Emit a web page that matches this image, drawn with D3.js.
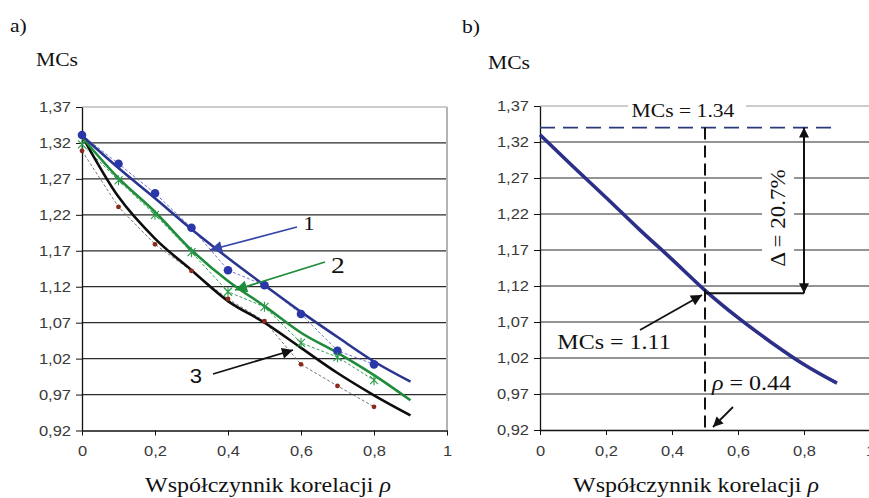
<!DOCTYPE html>
<html lang="pl">
<head>
  <meta charset="utf-8"/>
  <title>MCs – współczynnik korelacji</title>
  <script src="https://cdn.jsdelivr.net/npm/d3@7/dist/d3.min.js"></script>
  <style>
    html, body { margin:0; padding:0; background:#fff; overflow:hidden; }
    svg { display:block; }
    .tick text { font-family:"Liberation Sans", Arial, sans-serif; font-size:15px; fill:#3a3a3a; }
    .serif { font-family:"Liberation Serif", "Times New Roman", serif; fill:#111; }
  </style>
</head>
<body>
<svg width="869" height="498"></svg>
<script>
  // --- dane ---
  const rhoLine = [0, 0.1, 0.2, 0.3, 0.4, 0.5, 0.6, 0.7, 0.8, 0.9];
  const curve1  = [1.330, 1.285, 1.243, 1.200, 1.160, 1.122, 1.085, 1.050, 1.016, 0.988];
  const curve2  = [1.328, 1.271, 1.224, 1.171, 1.128, 1.093, 1.056, 1.028, 0.997, 0.962];
  const curve3  = [1.330, 1.245, 1.187, 1.143, 1.100, 1.070, 1.035, 1.000, 0.969, 0.941];

  const rhoPts  = [0, 0.1, 0.2, 0.3, 0.4, 0.5, 0.6, 0.7, 0.8];
  const pts1    = [1.331, 1.291, 1.250, 1.202, 1.143, 1.122, 1.082, 1.031, 1.012];
  const pts2    = [1.318, 1.268, 1.220, 1.168, 1.113, 1.092, 1.042, 1.022, 0.990];
  const pts3    = [1.309, 1.231, 1.179, 1.142, 1.103, 1.072, 1.012, 0.982, 0.953];

  const curveB  = [1.330, 1.286, 1.243, 1.199, 1.157, 1.114, 1.076, 1.042, 1.011, 0.985];

  const yTicks  = [0.92, 0.97, 1.02, 1.07, 1.12, 1.17, 1.22, 1.27, 1.32, 1.37];
  const yLabels = ["0,92", "0,97", "1,02", "1,07", "1,12", "1,17", "1,22", "1,27", "1,32", "1,37"];
  const xTicks  = [0, 0.2, 0.4, 0.6, 0.8, 1];
  const xLabels = ["0", "0,2", "0,4", "0,6", "0,8", "1"];

  const mcsMax = 1.34, mcsCross = 1.11, rhoCross = 0.5, rhoBracket = 0.8;

  const svg = d3.select("svg");
  const SX = 1.2; // tekst w oryginale jest rozciągnięty w poziomie

  // defs: groty strzałek
  const defs = svg.append("defs");
  function head(id, color, w, h) {
    defs.append("marker").attr("id", id)
      .attr("viewBox", "0 0 10 10").attr("refX", 10).attr("refY", 5)
      .attr("markerUnits", "userSpaceOnUse")
      .attr("markerWidth", w).attr("markerHeight", h)
      .attr("orient", "auto-start-reverse")
      .append("path").attr("d", "M0,0L10,5L0,10Z").attr("fill", color);
  }
  head("hBlue", "#3545a8", 16, 12);
  head("hGreen", "#1e8c3a", 16, 12);
  head("hBlack", "#111", 16, 11);
  head("hSmall", "#111", 13, 10);

  function label(x, y, s, size, anchor, cls, sx) {
    return svg.append("text")
      .attr("class", cls || "serif")
      .attr("transform", `translate(${x},${y}) scale(${sx || SX},1)`)
      .attr("text-anchor", anchor || "start")
      .style("font-size", size + "px")
      .text(s);
  }

  const fmt = d => yLabels[yTicks.indexOf(d)];
  const fmtX = d => xLabels[xTicks.indexOf(d)];

  function panel(x0, x1, y0, y1, grey) {
    const x = d3.scaleLinear([0, 1], [x0, x1]);
    const y = d3.scaleLinear([0.92, 1.37], [y0, y1]);
    const g = svg.append("g");
    // siatka
    g.append("g").selectAll("line").data(yTicks.slice(1)).join("line")
      .attr("x1", x0).attr("x2", Math.min(x1, 869))
      .attr("y1", d => y(d)).attr("y2", d => y(d))
      .attr("stroke", d => d === 1.37 ? "#9a9a9a" : "#2a2a2a")
      .attr("stroke-width", 1.2);
    if (grey) {
      g.append("line").attr("x1", x1).attr("x2", x1).attr("y1", y(1.37)).attr("y2", y0)
        .attr("stroke", "#b4b4b4").attr("stroke-width", 2);
    }
    const ay = g.append("g").attr("transform", `translate(${x0},0)`)
      .call(d3.axisLeft(y).tickValues(yTicks).tickFormat(fmt).tickSize(6).tickSizeOuter(0).tickPadding(4));
    const ax = g.append("g").attr("transform", `translate(0,${y0})`)
      .call(d3.axisBottom(x).tickValues(xTicks).tickFormat(fmtX).tickSize(5).tickSizeOuter(0).tickPadding(10));
    [ay, ax].forEach(a => {
      a.select(".domain").attr("stroke", "#111").attr("stroke-width", 1.3);
      a.selectAll(".tick line").attr("stroke", "#111");
      a.selectAll(".tick text").attr("transform", `scale(1.1,1)`);
    });
    return { x, y, g };
  }

  // ===== a) =====
  const A = panel(82, 447, 430.5, 107, true);
  const lineA = (vals, c) => d3.line().curve(c || d3.curveLinear)
    .x(d => A.x(d)).y((d, i) => A.y(vals[i]));

  // przerywane linie przez punkty
  [[pts1, "#6f74d0"], [pts2, "#3aa05a"], [pts3, "#777"]].forEach(([v, c]) => {
    A.g.append("path").attr("d", lineA(v)(rhoPts))
      .attr("fill", "none").attr("stroke", c).attr("stroke-width", 1).attr("stroke-dasharray", "3,2");
  });
  // ciągłe krzywe
  [[curve3, "#0d0d0d"], [curve2, "#1e8c3a"], [curve1, "#2a3590"]].forEach(([v, c]) => {
    A.g.append("path").attr("d", lineA(v, d3.curveMonotoneX)(rhoLine))
      .attr("fill", "none").attr("stroke", c).attr("stroke-width", 2.6).attr("stroke-linejoin", "round");
  });
  // znaczniki
  A.g.append("g").selectAll("circle").data(rhoPts).join("circle")
    .attr("cx", d => A.x(d)).attr("cy", (d, i) => A.y(pts1[i])).attr("r", 4.3).attr("fill", "#2b36a8");
  A.g.append("g").selectAll("path").data(rhoPts).join("path")
    .attr("transform", (d, i) => `translate(${A.x(d)},${A.y(pts2[i])})`)
    .attr("d", "M-4,-4L4,4M-4,4L4,-4M0,-5L0,5")
    .attr("stroke", "#2a9a48").attr("stroke-width", 1.1);
  A.g.append("g").selectAll("circle").data(rhoPts).join("circle")
    .attr("cx", d => A.x(d)).attr("cy", (d, i) => A.y(pts3[i])).attr("r", 2.4).attr("fill", "#8b2a1a");

  // opisy krzywych
  svg.append("line").attr("x1", 297).attr("y1", 227).attr("x2", 210).attr("y2", 250)
    .attr("stroke", "#3545a8").attr("stroke-width", 1.8).attr("marker-end", "url(#hBlue)");
  svg.append("line").attr("x1", 325).attr("y1", 262).attr("x2", 235).attr("y2", 290)
    .attr("stroke", "#1e8c3a").attr("stroke-width", 1.8).attr("marker-end", "url(#hGreen)");
  svg.append("line").attr("x1", 213).attr("y1", 374).attr("x2", 293).attr("y2", 350)
    .attr("stroke", "#111").attr("stroke-width", 1.8).attr("marker-end", "url(#hBlack)");
  label(309, 230, "1", 19, "middle");
  label(338, 273, "2", 23, "middle");
  label(196, 383, "3", 21, "middle", "serif", 1.05).style("font-family", "'Liberation Sans', Arial, sans-serif");

  label(10, 32, "a)", 18);
  label(36, 66, "MCs", 18);
  label(268, 492, "Współczynnik korelacji ", 20, "middle").append("tspan").style("font-style", "italic").text("ρ");

  // ===== b) =====
  const B = panel(540, 870, 430, 106, false);
  // tło pod napisem MCs = 1.34
  svg.append("rect").attr("x", 628).attr("y", 98).attr("width", 118).attr("height", 18).attr("fill", "#fff");
  label(683, 117, "MCs = 1.34", 18, "middle");

  svg.append("path")
    .attr("d", d3.line().curve(d3.curveMonotoneX).x(d => B.x(d)).y((d, i) => B.y(curveB[i]))(rhoLine))
    .attr("fill", "none").attr("stroke", "#2b2f88").attr("stroke-width", 3.6).attr("stroke-linejoin", "round");

  // poziom MCs max
  svg.append("line").attr("x1", B.x(0)).attr("x2", B.x(0.9)).attr("y1", B.y(mcsMax)).attr("y2", B.y(mcsMax))
    .attr("stroke", "#2b3a7a").attr("stroke-width", 1.8).attr("stroke-dasharray", "15,8");
  // pionowa przerywana
  svg.append("line").attr("x1", B.x(rhoCross)).attr("x2", B.x(rhoCross)).attr("y1", B.y(mcsMax)).attr("y2", B.y(0.92))
    .attr("stroke", "#111").attr("stroke-width", 2).attr("stroke-dasharray", "12,6");
  // klamra Δ
  svg.append("line").attr("x1", B.x(rhoCross)).attr("x2", B.x(rhoBracket)).attr("y1", B.y(mcsCross)).attr("y2", B.y(mcsCross))
    .attr("stroke", "#111").attr("stroke-width", 2);
  svg.append("line").attr("x1", B.x(rhoBracket)).attr("x2", B.x(rhoBracket)).attr("y1", B.y(mcsCross)).attr("y2", B.y(mcsMax))
    .attr("stroke", "#111").attr("stroke-width", 2)
    .attr("marker-start", "url(#hSmall)").attr("marker-end", "url(#hSmall)");
  svg.append("rect").attr("x", 762).attr("y", 160).attr("width", 32).attr("height", 112).attr("fill", "#fff");
  svg.append("text").attr("class", "serif")
    .attr("transform", `translate(785,218) rotate(-90) scale(1.15,1)`)
    .attr("text-anchor", "middle").style("font-size", "20px").text("Δ = 20.7%");

  // MCs = 1.11
  svg.append("line").attr("x1", 640).attr("y1", 330).attr("x2", 702).attr("y2", 295)
    .attr("stroke", "#111").attr("stroke-width", 1.8).attr("marker-end", "url(#hBlack)");
  label(614, 349, "MCs = 1.11", 20, "middle");
  // rho = 0.44
  svg.append("line").attr("x1", 733).attr("y1", 407).attr("x2", 713).attr("y2", 427)
    .attr("stroke", "#111").attr("stroke-width", 1.8).attr("marker-end", "url(#hSmall)");
  const rt = label(712, 390, "", 20, "start");
  rt.append("tspan").style("font-style", "italic").text("ρ");
  rt.append("tspan").text(" = 0.44");

  label(462, 33, "b)", 18);
  label(488, 69, "MCs", 18);
  label(696, 492, "Współczynnik korelacji ", 20, "middle").append("tspan").style("font-style", "italic").text("ρ");
</script>
</body>
</html>
